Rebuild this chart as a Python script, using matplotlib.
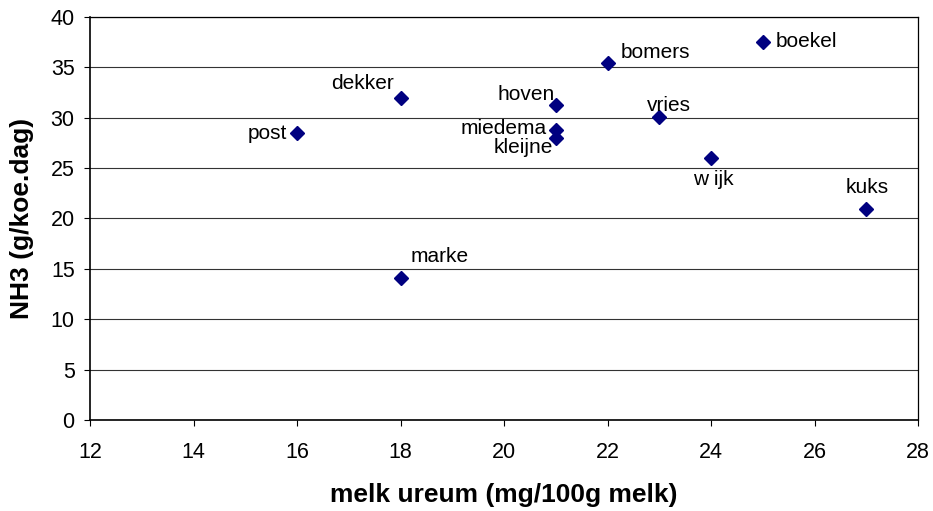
import matplotlib
matplotlib.use("Agg")
import matplotlib.pyplot as plt

plt.rcParams['font.family'] = ['Liberation Sans', 'DejaVu Sans']

# melk ureum vs NH3 per bedrijf
names = ['post', 'dekker', 'marke', 'hoven', 'miedema', 'kleijne',
         'bomers', 'vries', 'w ijk', 'boekel', 'kuks']
ureum = [16, 18, 18, 21, 21, 21, 22, 23, 24, 25, 27]
nh3 = [28.45, 32.0, 14.1, 31.3, 28.75, 28.0, 35.4, 30.05, 26.05, 37.55, 20.9]

# label offsets in pixels (dx, dy, ha)
offsets = {
    'post': (-10, 0, 'right'),
    'dekker': (-7, 14, 'right'),
    'marke': (10, 21, 'left'),
    'hoven': (-1, 10, 'right'),
    'miedema': (-9, 2, 'right'),
    'kleijne': (-3, -10, 'right'),
    'bomers': (13, 11, 'left'),
    'vries': (10, 12, 'center'),
    'w ijk': (2, -22, 'center'),
    'boekel': (13, 0, 'left'),
    'kuks': (1, 22, 'center'),
}

fig = plt.figure(figsize=(9.33, 5.11), dpi=100)
ax = fig.add_axes([90/933, 1-420/511, (918-90)/933, (420-17)/511])

ax.set_xlim(12, 28)
ax.set_ylim(0, 40)
ax.set_xticks(range(12, 29, 2))
ax.set_yticks(range(0, 41, 5))
ax.yaxis.grid(True, color='#333333', linewidth=0.8)
ax.set_axisbelow(True)
ax.tick_params(direction='out', length=4, width=0.8, labelsize=15.5)
ax.tick_params(axis='x', pad=12)
ax.tick_params(axis='y', pad=7)
for s in ax.spines.values():
    s.set_linewidth(0.9)
ax.spines['left'].set_linewidth(1.2)
ax.spines['bottom'].set_linewidth(1.2)

ax.plot(ureum, nh3, 'D', color='#000080', markersize=7, linestyle='none', zorder=3)

for n, xv, yv in zip(names, ureum, nh3):
    dx, dy, ha = offsets[n]
    ax.annotate(n, (xv, yv), xytext=(dx, dy), textcoords='offset pixels',
                ha=ha, va='center', fontsize=15)

ax.set_xlabel('melk ureum (mg/100g melk)', fontsize=19, fontweight='bold', labelpad=14)
ax.set_ylabel('NH3 (g/koe.dag)', fontsize=19, fontweight='bold', labelpad=12)

fig.savefig('out.png', dpi=100)
